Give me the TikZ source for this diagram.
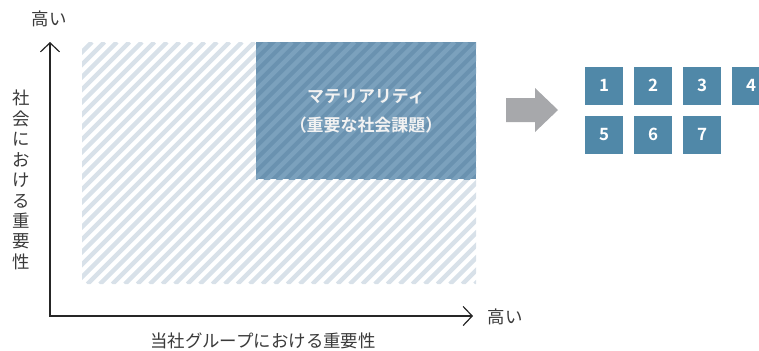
\documentclass[tikz,border=0pt]{standalone}
\usepackage{fontspec}
\newfontfamily\jp{Noto Sans CJK JP}[BoldFont={Noto Sans CJK JP Bold}]
\usetikzlibrary{arrows.meta}
\definecolor{hatchlight}{HTML}{D8E1E9}
\definecolor{darkbase}{HTML}{6A92B0}
\definecolor{darkstripe}{HTML}{7BA1BD}
\definecolor{boxblue}{HTML}{5088A8}
\definecolor{arrowgray}{HTML}{A7A8AB}
\definecolor{txt}{HTML}{3A3A3A}
\tikzset{
  hatchL/.style={draw=hatchlight, line width=4.4bp},
  hatchD/.style={draw=darkstripe, line width=4.4bp},
  axisline/.style={draw=black!85, line width=1.2bp,
    {Straight Barb[length=9bp,width=19bp]}-{Straight Barb[length=9bp,width=19bp]}},
  lbl/.style={text=txt, font=\jp\fontsize{17.5}{20.5}\selectfont, inner sep=0pt},
  numbox/.style={minimum size=38bp, inner sep=0pt, fill=boxblue, text=white,
    font=\jp\bfseries\fontsize{17}{17}\selectfont},
  matlbl/.style={text=white!95!black, align=center, inner sep=0pt,
    font=\jp\bfseries\fontsize{17}{29}\selectfont}
}
\begin{document}
\begin{tikzpicture}[x=1bp,y=-1bp]
\clip (0,0) rectangle (759,350);
\useasboundingbox (0,0) rectangle (759,350);
% light hatched field (outside the materiality box)
\begin{scope}
\clip (82,42) -- (256.5,42) -- (256.5,178.5) -- (476,178.5) -- (476,284) -- (82,284) -- cycle;
\foreach \i in {-250,-237.5,...,480} \draw[hatchL] (\i,284) -- ++(242,-242);
\end{scope}
% materiality box
\fill[darkbase] (256,42) rectangle (476,179);
\begin{scope}
\clip (256,42) rectangle (476,179);
\foreach \i in {-250,-237.5,...,480} \draw[hatchD] (\i,284) -- ++(242,-242);
\end{scope}
\node[matlbl] (mat) at (366,111) {マテリアリティ\\（重要な社会課題）};
% axes
\coordinate (yT) at (50,42);
\coordinate (O) at (50,316);
\coordinate (xT) at (473,316);
\draw[axisline] (yT) -- (O) -- (xT);
\node[lbl] (yhigh) at (49,19) {高い};
\node[lbl] (xhigh) at (505,317) {高い};
\node[lbl, align=center] (ylab) at (21,180) {社\\会\\に\\お\\け\\る\\重\\要\\性};
\node[lbl] (xlab) at (263,341) {当社グループにおける重要性};
% gray arrow
\fill[arrowgray] (506,98) -- (535,98) -- (535,88) -- (558,110) -- (535,132) -- (535,122) -- (506,122) -- cycle;
% number boxes
\node[numbox] (n1) at (604,85.5) {1};
\node[numbox] (n2) at (653,85.5) {2};
\node[numbox] (n3) at (702,85.5) {3};
\node[numbox] (n4) at (751,85.5) {4};
\node[numbox] (n5) at (604,134.5) {5};
\node[numbox] (n6) at (653,134.5) {6};
\node[numbox] (n7) at (702,134.5) {7};
\end{tikzpicture}
\end{document}
